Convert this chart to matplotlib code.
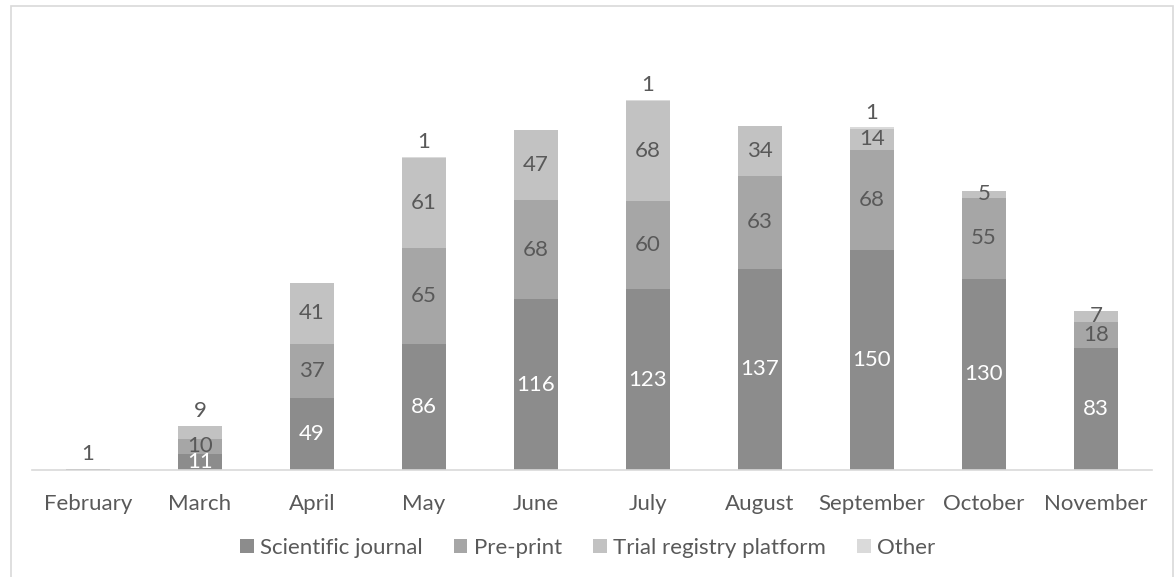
import numpy as np
import matplotlib.pyplot as plt
from matplotlib.patches import Rectangle

months = ["February", "March", "April", "May", "June", "July",
          "August", "September", "October", "November"]
scientific = [1, 11, 49, 86, 116, 123, 137, 150, 130, 83]
preprint = [0, 10, 37, 65, 68, 60, 63, 68, 55, 18]
trial = [0, 9, 41, 61, 47, 68, 34, 14, 5, 7]
other = [0, 0, 0, 1, 0, 1, 0, 1, 0, 0]

series_names = ["Scientific journal", "Pre-print", "Trial registry platform", "Other"]
colors = ["#8c8c8c", "#a6a6a6", "#c2c2c2", "#dadada"]
label_colors = ["white", "#595959", "#595959", "#595959"]

plt.rcParams["font.family"] = ["Lato", "DejaVu Sans"]
fs = 16

fig = plt.figure(figsize=(11.76, 5.77), dpi=100)
ax = fig.add_axes([32 / 1176, 107 / 577, 1120 / 1176, 441 / 577])

# chart-area border
fig.patches.append(Rectangle((11 / 1176, -0.05), 1162 / 1176, 1 - 6 / 577 + 0.05,
                             transform=fig.transFigure, fill=False,
                             edgecolor="#d9d9d9", linewidth=1.2))

x = np.arange(len(months))
data = [scientific, preprint, trial, other]
bottom = np.zeros(len(months))
for vals, name, col, lcol in zip(data, series_names, colors, label_colors):
    vals = np.array(vals, dtype=float)
    ax.bar(x, vals, 0.4, bottom=bottom, color=col, label=name)
    for i, v in enumerate(vals):
        if v <= 0:
            continue
        if name == "Other":
            ax.text(x[i], bottom[i] + v + 3, str(int(v)), ha="center", va="bottom",
                    fontsize=fs, color="#595959")
        elif name == "Trial registry platform" and months[i] == "March":
            ax.text(x[i], bottom[i] + v + 3, str(int(v)), ha="center", va="bottom",
                    fontsize=fs, color="#595959")
        elif months[i] == "February":
            # tiny bar: label sits above it
            ax.text(x[i], bottom[i] + v + 3, str(int(v)), ha="center", va="bottom",
                    fontsize=fs, color="#595959")
        else:
            ax.text(x[i], bottom[i] + v / 2, str(int(v)), ha="center", va="center",
                    fontsize=fs, color=lcol)
    bottom += vals

ax.set_xlim(-0.5, len(months) - 0.5)
ax.set_ylim(0, 300)
ax.set_xticks(x)
ax.set_xticklabels(months, fontsize=fs, color="#595959")
ax.tick_params(axis="x", length=0, pad=17)
ax.set_yticks([])
for s in ["top", "right", "left"]:
    ax.spines[s].set_visible(False)
ax.spines["bottom"].set_color("#d9d9d9")
ax.spines["bottom"].set_linewidth(1.2)

leg = fig.legend(loc="center", bbox_to_anchor=(0.5, 1 - 548 / 577), ncol=4,
                 frameon=False, fontsize=fs, handlelength=0.6, handleheight=0.6,
                 handletextpad=0.3, columnspacing=1.4)
for t in leg.get_texts():
    t.set_color("#595959")

fig.savefig("out.png", dpi=100)
